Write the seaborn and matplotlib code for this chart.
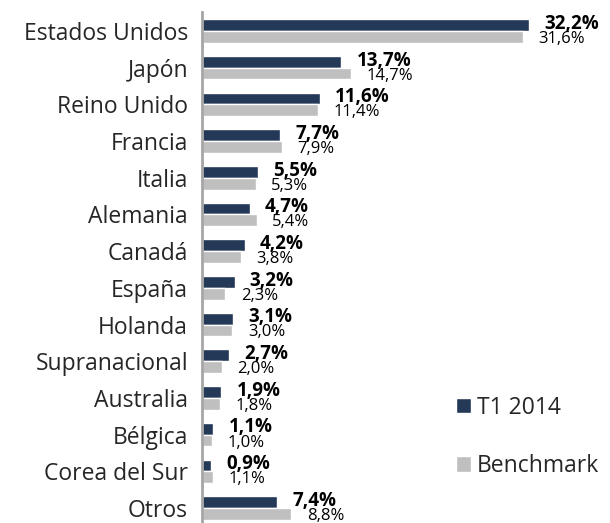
import matplotlib
matplotlib.use("Agg")
import matplotlib.pyplot as plt
import pandas as pd
import seaborn as sns

paises = ["Estados Unidos", "Japón", "Reino Unido", "Francia", "Italia", "Alemania",
          "Canadá", "España", "Holanda", "Supranacional", "Australia", "Bélgica",
          "Corea del Sur", "Otros"]
t1_2014 = [32.2, 13.7, 11.6, 7.7, 5.5, 4.7, 4.2, 3.2, 3.1, 2.7, 1.9, 1.1, 0.9, 7.4]
benchmark = [31.6, 14.7, 11.4, 7.9, 5.3, 5.4, 3.8, 2.3, 3.0, 2.0, 1.8, 1.0, 1.1, 8.8]
series = ["T1 2014", "Benchmark"]
colores = ["#1B365F", "#BFBFBF"]

df = pd.DataFrame({
    "pais": paises * 2,
    "valor": t1_2014 + benchmark,
    "serie": [series[0]] * len(paises) + [series[1]] * len(paises),
})

sns.set_style("white")
plt.rcParams["font.family"] = ["Open Sans", "DejaVu Sans"]

fig = plt.figure(figsize=(6.10, 5.23), dpi=100)
ax = fig.add_axes([202 / 610, 0, 347 / 610, 511 / 523])

sns.barplot(data=df, y="pais", x="valor", hue="serie", orient="h",
            palette=colores, width=0.64, ax=ax, legend=True)

ax.set_xlim(0, 34.15)
ax.set_ylim(13.41, -0.52)
ax.set_xlabel("")
ax.set_ylabel("")
ax.set_xticks([])
ax.tick_params(axis="y", length=0, pad=10, labelsize=16.5)

for s in ["top", "right", "bottom"]:
    ax.spines[s].set_visible(False)
ax.spines["left"].set_color("#A6A6A6")
ax.spines["left"].set_linewidth(2)

for cont, peso, tam, dy in zip(ax.containers, ["bold", "normal"], [13.5, 12], [1, -1.5]):
    for bar in cont:
        w = bar.get_width()
        y = bar.get_y() + bar.get_height() / 2
        ax.annotate(f"{w:.1f}%".replace(".", ","), (w, y), xytext=(11, dy),
                    textcoords="offset points", va="center", ha="left",
                    fontsize=tam, fontweight=peso, color="black", annotation_clip=False)

ax.legend(loc="center left", bbox_to_anchor=(456 / 610, 1 - 437 / 523),
          bbox_transform=fig.transFigure, frameon=False, fontsize=16.5,
          borderaxespad=0, borderpad=0,
          handlelength=0.65, handleheight=0.65, handletextpad=0.25, labelspacing=1.5)

fig.savefig("out.png", dpi=100)
